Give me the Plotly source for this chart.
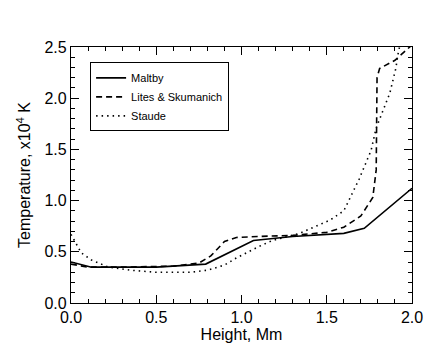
import plotly.graph_objects as go

# Height (Mm) and temperature (x10^4 K)
maltby_h = [0.0, 0.05, 0.12, 0.3, 0.5, 0.79, 1.07, 1.3, 1.6, 1.72, 2.0]
maltby_T = [0.40, 0.38, 0.35, 0.35, 0.35, 0.38, 0.61, 0.65, 0.68, 0.73, 1.12]

lites_h = [0.0, 0.1, 0.3, 0.6, 0.75, 0.82, 0.9, 0.97, 1.1, 1.3, 1.5, 1.6, 1.7, 1.77, 1.79, 1.795, 1.81, 1.9, 1.96, 2.0]
lites_T = [0.38, 0.35, 0.35, 0.36, 0.39, 0.46, 0.60, 0.64, 0.65, 0.66, 0.69, 0.74, 0.85, 1.03, 1.3, 2.2, 2.29, 2.37, 2.46, 2.52]

staude_h = [0.0, 0.03, 0.06, 0.12, 0.16, 0.22, 0.35, 0.5, 0.7, 0.8, 0.9, 0.97, 1.1, 1.18, 1.34, 1.52, 1.6, 1.69, 1.76, 1.79, 1.87, 1.905, 1.92, 1.93]
staude_T = [0.67, 0.58, 0.49, 0.42, 0.39, 0.35, 0.32, 0.30, 0.30, 0.32, 0.37, 0.44, 0.55, 0.61, 0.68, 0.81, 0.90, 1.21, 1.49, 1.71, 2.05, 2.29, 2.45, 2.52]

x_ticks = [0.0, 0.5, 1.0, 1.5, 2.0]
y_ticks = [0.0, 0.5, 1.0, 1.5, 2.0, 2.5]

FONT = "Liberation Sans, Arial, Helvetica, sans-serif"

fig = go.Figure()
fig.add_trace(go.Scatter(x=maltby_h, y=maltby_T, mode="lines", name="Maltby",
                         line=dict(color="black", width=1.6)))
fig.add_trace(go.Scatter(x=lites_h, y=lites_T, mode="lines", name="Lites & Skumanich",
                         line=dict(color="black", width=1.6, dash="6px,4px")))
fig.add_trace(go.Scatter(x=staude_h, y=staude_T, mode="lines", name="Staude",
                         line=dict(color="black", width=1.6, dash="1.5px,4px")))

axis_common = dict(
    showgrid=False, zeroline=False, showline=True, linecolor="black", linewidth=1.2,
    mirror="allticks", ticks="inside", ticklen=8, tickwidth=1, tickcolor="black",
    tickfont=dict(family=FONT, size=16, color="black"),
)

fig.update_xaxes(
    range=[0, 2.0], tickvals=x_ticks, ticktext=[f"{v:.1f}" for v in x_ticks],
    minor=dict(dtick=0.1, ticks="inside", ticklen=4, tickcolor="black", showgrid=False),
    title=dict(text="Height, Mm", standoff=3,
               font=dict(family=FONT, size=16, color="black")),
    **axis_common,
)
fig.update_yaxes(
    range=[0, 2.5], tickvals=y_ticks, ticktext=[f"{v:.1f}" for v in y_ticks],
    minor=dict(dtick=0.1, ticks="inside", ticklen=4, tickcolor="black", showgrid=False),
    title=dict(text="Temperature, x10<sup>4</sup> K", standoff=9,
               font=dict(family=FONT, size=16, color="black")),
    **axis_common,
)

fig.update_layout(
    width=431, height=342,
    margin=dict(l=63, r=27, t=39, b=47, autoexpand=False),
    paper_bgcolor="white", plot_bgcolor="white",
    legend=dict(x=0.056, y=0.94, xanchor="left", yanchor="top",
                bgcolor="white", bordercolor="black", borderwidth=1,
                font=dict(family=FONT, size=11, color="black"),
                tracegroupgap=0, itemwidth=30),
    showlegend=True,
)

fig.write_html("out.html")
